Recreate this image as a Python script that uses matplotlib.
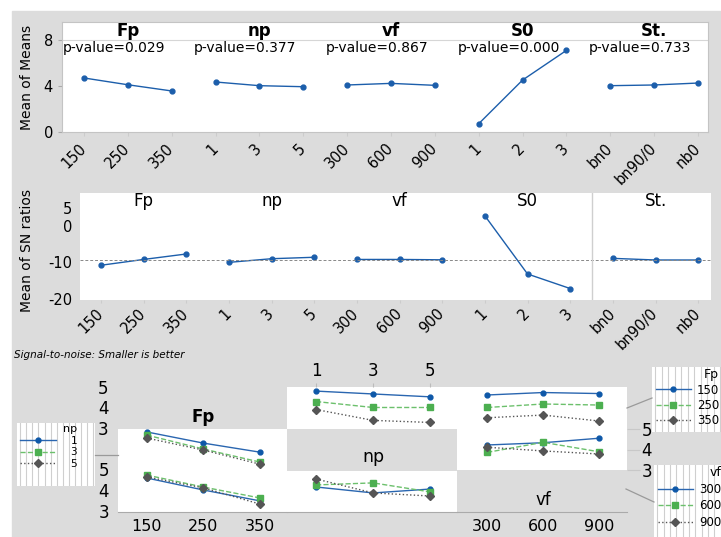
import matplotlib
matplotlib.use('Agg')
import matplotlib.pyplot as plt
from matplotlib.lines import Line2D
from matplotlib.patches import Rectangle
from matplotlib import transforms
import numpy as np

plt.rcParams['font.family'] = ['DejaVu Sans']
plt.rcParams['axes.unicode_minus'] = False

# ---- main effects data ----
factors = ['Fp', 'np', 'vf', 'S0', 'St.']
levels = [['150', '250', '350'], ['1', '3', '5'], ['300', '600', '900'],
          ['1', '2', '3'], ['bn0', 'bn90/0', 'nb0']]
p_values = ['0.029', '0.377', '0.867', '0.000', '0.733']
mean_of_means = [[4.70, 4.11, 3.57], [4.35, 4.03, 3.94], [4.09, 4.23, 4.06],
                 [0.72, 4.52, 7.10], [4.03, 4.09, 4.26]]
mean_of_sn = [[-10.8, -9.2, -7.7], [-10.0, -9.0, -8.6], [-9.2, -9.2, -9.3],
              [2.8, -13.2, -17.2], [-8.9, -9.35, -9.35]]
sn_overall = -9.35

# ---- interaction data (three series each) ----
fp_levels = ['150', '250', '350']
np_levels = ['1', '3', '5']
vf_levels = ['300', '600', '900']
fp_upper = [[4.86, 4.33, 3.90], [4.71, 4.05, 3.43], [4.57, 4.00, 3.33]]
fp_lower = [[4.57, 4.00, 3.48], [4.71, 4.14, 3.62], [4.62, 4.10, 3.33]]
np_upper = [[4.80, 4.66, 4.52], [4.29, 4.00, 4.00], [3.90, 3.37, 3.27]]
np_lower = [[4.17, 3.88, 4.07], [4.27, 4.37, 3.93], [4.56, 3.88, 3.73]]
vf_upper = [[4.61, 4.73, 4.68], [4.00, 4.17, 4.12], [3.50, 3.63, 3.34]]
vf_lower = [[4.22, 4.33, 4.55], [3.86, 4.35, 3.89], [4.11, 3.93, 3.78]]

W, H = 721, 537
GRAY = '#dcdcdc'
BLUE = '#1c5eab'
styles = [dict(color='#2a66b0', ls='-', marker='o', ms=3.5, mfc='#0e58a8', mec='#0e58a8', lw=1),
          dict(color='#6cc06c', ls='--', marker='s', ms=4.5, mfc='#4caf50', mec='#4caf50', lw=1),
          dict(color='#555555', ls=':', marker='D', ms=4, mfc='#555555', mec='#555555', lw=1)]

fig = plt.figure(figsize=(7.21, 5.37), dpi=100)
fig.patches.append(Rectangle((12 / W, 0), 1 - 12 / W, 1 - 11 / H, transform=fig.transFigure,
                             color=GRAY, zorder=-10))


def px_axes(x0, y0, x1, y1, **kw):
    return fig.add_axes([x0 / W, 1 - y1 / H, (x1 - x0) / W, (y1 - y0) / H], **kw)


def fig_text(x, y, s, **kw):
    fig.text(x / W, 1 - y / H, s, **kw)


def fig_line(x0, y0, x1, y1):
    fig.add_artist(Line2D([x0 / W, x1 / W], [1 - y0 / H, 1 - y1 / H], color='#9a9a9a', lw=0.9))


idx = np.arange(15)
all_levels = [l for lv in levels for l in lv]

# ---- Mean of Means ----
ax1 = px_axes(62, 22, 708, 132)
blend1 = transforms.blended_transform_factory(ax1.transData, ax1.transAxes)
for g, name in enumerate(factors):
    xs = 3 * g + np.arange(3)
    ax1.plot(xs, mean_of_means[g], color=BLUE, lw=1, marker='o', ms=3.5)
    ax1.text(3 * g + 1, 0.918, name, transform=blend1, ha='center', va='center',
             fontsize=12, fontweight='bold')
    ax1.text(3 * g + 0.68, 0.764, 'p-value=' + p_values[g], transform=blend1,
             ha='center', va='center', fontsize=10)
ax1.axhline(8, color='#d6d6d6', lw=0.8)
ax1.set_xlim(-0.502, 14.228)
ax1.set_ylim(0, 9.57)
ax1.set_yticks([0, 4, 8])
ax1.set_xticks(idx, all_levels, rotation=45, ha='right', va='center', rotation_mode='anchor')
ax1.tick_params(axis='y', length=3, color='#aaaaaa', labelsize=10.5, pad=3.5)
ax1.tick_params(axis='x', length=3, color='#cccccc', labelsize=10.5, pad=7)
for s in ax1.spines.values():
    s.set_color('#c4c4c4')
fig_text(27, 77, 'Mean of Means', rotation=90, ha='center', va='center', fontsize=10)

# ---- Mean of SN ratios ----
ax2 = px_axes(80, 193, 711, 300)
blend2 = transforms.blended_transform_factory(ax2.transData, ax2.transAxes)
for g, name in enumerate(factors):
    xs = 3 * g + np.arange(3)
    ax2.plot(xs, mean_of_sn[g], color=BLUE, lw=1, marker='o', ms=3.5)
    ax2.text(3 * g + 1, 0.925, name, transform=blend2, ha='center', va='center', fontsize=12)
ax2.axhline(sn_overall, color='#888888', lw=0.7, ls=(0, (3, 2)))
ax2.axvline(11.5, color='#cfcfcf', lw=1)
ax2.set_xlim(-0.49, 14.30)
ax2.set_ylim(-20.35, 9.07)
ax2.set_yticks([5, 0, -10, -20])
ax2.set_xticks(idx, all_levels, rotation=45, ha='right', va='center', rotation_mode='anchor')
ax2.tick_params(axis='y', length=0, labelsize=10.5, pad=5.5)
ax2.tick_params(axis='x', length=2, color='#cccccc', labelsize=10.5, pad=6)
for s in ax2.spines.values():
    s.set_visible(False)
fig_text(27, 250, 'Mean of SN ratios', rotation=90, ha='center', va='center', fontsize=10)
fig_text(14, 355, 'Signal-to-noise: Smaller is better', style='italic', fontsize=7.5, va='center')


# ---- interaction panels ----
def panel(rect, series, ylim, xlim):
    ax = px_axes(*rect)
    ax.set_facecolor('white')
    for vals, st in zip(series, styles):
        ax.plot(np.arange(3), vals, **st)
    ax.set_xlim(*xlim)
    ax.set_ylim(*ylim)
    ax.set_xticks([])
    ax.set_yticks([])
    for s in ax.spines.values():
        s.set_visible(False)
    return ax


fp_xlim = (-0.51, 2.48)
np_xlim = (-0.51, 2.47)
vf_xlim = (-0.54, 2.50)

ax_fpu = panel((118, 429, 287, 469), fp_upper, (3.10, 5.0), fp_xlim)
ax_fpl = panel((118, 469, 287, 512), fp_lower, (2.95, 5.0), fp_xlim)
ax_fpl.set_yticks([3, 4, 5])
ax_fpl.set_xticks(np.arange(3), fp_levels)
ax_fpl.tick_params(axis='y', length=0, labelsize=12, pad=6.5)
ax_fpl.tick_params(axis='x', length=0, labelsize=11.5, pad=5)
ax_fpl.spines['bottom'].set_visible(True)
ax_fpl.spines['bottom'].set_color('#aaaaaa')
fig_text(203, 417, 'Fp', ha='center', va='center', fontsize=12, fontweight='bold')

ax_npu = panel((287, 387, 457, 429), np_upper, (2.95, 5.0), np_xlim)
ax_npu.xaxis.tick_top()
ax_npu.set_xticks(np.arange(3), np_levels)
ax_npu.tick_params(axis='x', length=3, color='#bbbbbb', labelsize=12, pad=2)
ax_npl = panel((287, 471, 457, 512), np_lower, (2.95, 4.95), np_xlim)
ax_npl.spines['bottom'].set_visible(True)
ax_npl.spines['bottom'].set_color('#aaaaaa')
fig_text(373, 457, 'np', ha='center', va='center', fontsize=12.5)

ax_vfu = panel((457, 387, 627, 429), vf_upper, (2.95, 5.0), vf_xlim)
ax_vfl = panel((457, 429, 627, 470), vf_lower, (3.0, 5.0), vf_xlim)
ax_vfl.yaxis.tick_right()
ax_vfl.set_yticks([3, 4, 5])
ax_vfl.tick_params(axis='y', length=9, color='#c8c8c8', labelsize=12, pad=1.5)

ax_vfx = px_axes(457, 470, 627, 512)
ax_vfx.set_facecolor('none')
ax_vfx.set_xlim(*vf_xlim)
ax_vfx.set_xticks(np.arange(3), vf_levels)
ax_vfx.set_yticks([])
ax_vfx.tick_params(axis='x', length=0, labelsize=11.5, pad=5)
for k, s in ax_vfx.spines.items():
    s.set_visible(k == 'bottom')
ax_vfx.spines['bottom'].set_color('#aaaaaa')
fig_text(543, 500, 'vf', ha='center', va='center', fontsize=12)

# row-1 y labels sitting in the gray margin
ax_lab = px_axes(110, 387, 118, 429)
ax_lab.set_facecolor('none')
ax_lab.set_ylim(2.95, 5.0)
ax_lab.set_yticks([3, 4, 5])
ax_lab.set_xticks([])
ax_lab.tick_params(axis='y', length=0, labelsize=12, pad=1)
for s in ax_lab.spines.values():
    s.set_visible(False)


# ---- legends ----
def legend_box(rect, title, labels, fs, spacing, hlen, hpad):
    ax = px_axes(*rect)
    ax.set_facecolor('white')
    ax.set_xlim(0, 1)
    ax.set_ylim(0, 1)
    ax.set_xticks(np.linspace(0.04, 0.98, 13))
    ax.set_yticks([])
    ax.grid(axis='x', color='#cfcfcf', lw=0.8)
    ax.tick_params(length=0, labelbottom=False)
    for s in ax.spines.values():
        s.set_visible(False)
    handles = [Line2D([], [], **st) for st in styles]
    ax.legend(handles, labels, title=title, loc='upper left', bbox_to_anchor=(0.03, 1.0),
              frameon=False, fontsize=fs, title_fontsize=fs + 0.5, handlelength=hlen,
              handletextpad=hpad, labelspacing=spacing, borderpad=0.1, borderaxespad=0,
              alignment='right')
    return ax


legend_box((17, 423, 95, 486), 'np', np_levels, 7.5, 0.15, 3.4, 1.4)
legend_box((652, 367, 735, 432), 'Fp', fp_levels, 8.5, 0.2, 3.0, 0.5)
legend_box((654, 465, 735, 545), 'vf', vf_levels, 8.5, 0.3, 3.0, 0.5)

fig_line(627, 408, 652, 398)
fig_line(626, 489, 654, 502)
fig_line(95, 455, 118, 455)

fig.savefig('out.png', dpi=100)
